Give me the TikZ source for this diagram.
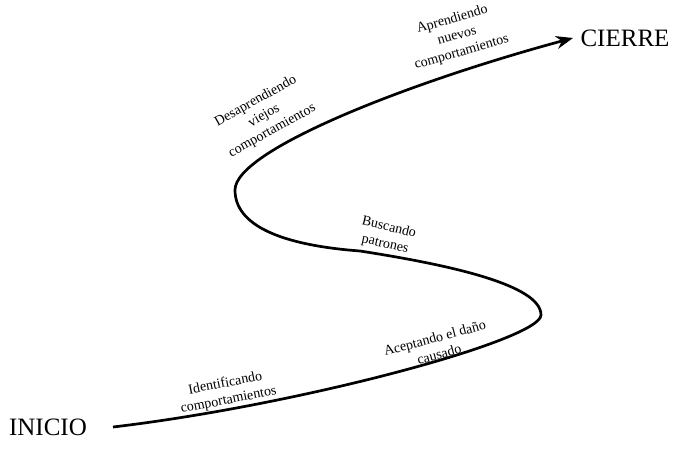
\documentclass[tikz,border=0pt]{standalone}
\usepackage{fontspec}
\setmainfont{Liberation Serif}
\usetikzlibrary{arrows.meta}

\tikzset{
    extremo/.style={font=\fontsize{25}{29}\selectfont, inner sep=0pt},
    etiqueta/.style={font=\fontsize{14}{17}\selectfont, align=center, inner sep=0pt},
    camino/.style={line width=2.7pt, -{Stealth[length=17pt,width=13pt]}}
}

\begin{document}
\begin{tikzpicture}[x=1pt, y=1pt]
    \useasboundingbox (0,0) rectangle (677,450);
    % extremos
    \node[extremo] (inicio) at (48,23) {INICIO};
    \node[extremo] (cierre) at (625,412) {CIERRE};
    % puntos del recorrido
    \coordinate (p0) at (113,23);
    \coordinate (der) at (541,135);
    \coordinate (med) at (360,199);
    \coordinate (izq) at (235,260);
    \coordinate (fin) at (573,412);
    \draw[camino] (p0) .. controls (300,45) and (541,110) .. (der)
        .. controls (541,165) and (450,185) .. (med)
        .. controls (280,205) and (235,225) .. (izq)
        .. controls (235,300) and (410,368) .. (fin);
    % etapas
    \node[etiqueta, rotate=11] (identificar) at (227,58) {Identificando\\comportamientos};
    \node[etiqueta, rotate=15] (aceptar) at (437,104) {Aceptando el daño\\causado};
    \node[etiqueta, rotate=-13] (buscar) at (387,214) {Buscando\\patrones};
    \node[etiqueta, rotate=29] (desaprender) at (264,334) {Desaprendiendo\\viejos\\comportamientos};
    \node[etiqueta, rotate=16] (aprender) at (457,414) {Aprendiendo\\nuevos\\comportamientos};
\end{tikzpicture}
\end{document}
